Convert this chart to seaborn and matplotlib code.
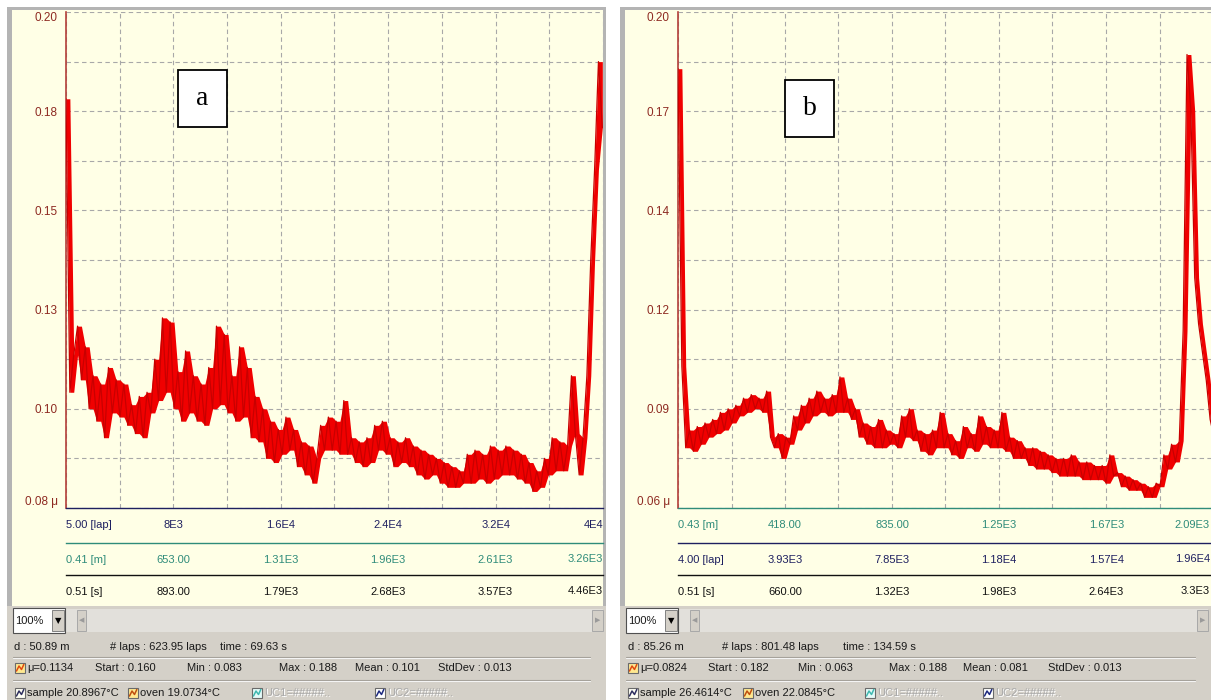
import numpy as np
import pandas as pd
import matplotlib
matplotlib.use("Agg")
import matplotlib.pyplot as plt
import seaborn as sns
from matplotlib.patches import Rectangle
from matplotlib.lines import Line2D

sns.set_theme(style="white")
plt.rcParams['font.family'] = ['Liberation Sans Narrow', 'Liberation Sans', 'DejaVu Sans']

# ---------------- datos ----------------
# panel a : coeficiente de friccion vs vueltas
mu_a = [0.179, 0.108, 0.117, 0.124, 0.111, 0.119, 0.104, 0.112, 0.101, 0.110,
        0.097, 0.114, 0.103, 0.111, 0.102, 0.110, 0.100, 0.105, 0.098, 0.107,
        0.097, 0.108, 0.103, 0.116, 0.106, 0.126, 0.108, 0.125, 0.104, 0.113,
        0.101, 0.118, 0.103, 0.112, 0.101, 0.110, 0.100, 0.114, 0.104, 0.124,
        0.105, 0.122, 0.103, 0.112, 0.101, 0.119, 0.102, 0.114, 0.097, 0.107,
        0.096, 0.104, 0.092, 0.101, 0.091, 0.099, 0.093, 0.102, 0.094, 0.099,
        0.090, 0.096, 0.088, 0.095, 0.086, 0.092, 0.100, 0.094, 0.102, 0.094,
        0.101, 0.093, 0.106, 0.093, 0.097, 0.091, 0.096, 0.090, 0.097, 0.091,
        0.100, 0.094, 0.101, 0.093, 0.097, 0.090, 0.096, 0.091, 0.097, 0.090,
        0.095, 0.088, 0.094, 0.087, 0.093, 0.088, 0.092, 0.086, 0.091, 0.085,
        0.090, 0.085, 0.089, 0.086, 0.093, 0.086, 0.094, 0.087, 0.093, 0.086,
        0.095, 0.087, 0.094, 0.088, 0.095, 0.088, 0.094, 0.087, 0.093, 0.086,
        0.091, 0.084, 0.089, 0.085, 0.092, 0.088, 0.097, 0.089, 0.096, 0.089,
        0.095, 0.112, 0.098, 0.088, 0.097, 0.112, 0.140, 0.162, 0.188, 0.172]

# panel b : coeficiente de friccion vs distancia
mu_b = [0.184, 0.100, 0.077, 0.082, 0.076, 0.083, 0.078, 0.084, 0.080, 0.085,
        0.081, 0.087, 0.082, 0.088, 0.084, 0.089, 0.086, 0.091, 0.087, 0.092,
        0.088, 0.091, 0.087, 0.093, 0.080, 0.077, 0.081, 0.074, 0.080, 0.078,
        0.086, 0.082, 0.089, 0.084, 0.091, 0.086, 0.093, 0.087, 0.091, 0.086,
        0.092, 0.087, 0.097, 0.087, 0.091, 0.085, 0.088, 0.080, 0.084, 0.078,
        0.083, 0.077, 0.085, 0.077, 0.082, 0.078, 0.081, 0.077, 0.086, 0.080,
        0.088, 0.079, 0.082, 0.076, 0.081, 0.075, 0.082, 0.077, 0.087, 0.077,
        0.081, 0.075, 0.079, 0.074, 0.083, 0.077, 0.081, 0.076, 0.086, 0.078,
        0.083, 0.077, 0.082, 0.077, 0.087, 0.076, 0.080, 0.074, 0.079, 0.074,
        0.077, 0.072, 0.077, 0.071, 0.076, 0.071, 0.075, 0.070, 0.074, 0.069,
        0.074, 0.069, 0.075, 0.069, 0.073, 0.068, 0.073, 0.068, 0.072, 0.068,
        0.072, 0.067, 0.075, 0.069, 0.070, 0.066, 0.069, 0.065, 0.068, 0.065,
        0.067, 0.063, 0.066, 0.063, 0.067, 0.066, 0.075, 0.071, 0.078, 0.073,
        0.079, 0.110, 0.188, 0.172, 0.125, 0.112, 0.104, 0.096, 0.085, 0.080]

# posiciones de muestreo (registro uniforme del tribometro)
laps_a = np.linspace(5, 39950, len(mu_a))
dist_b = np.linspace(0.43, 2090, len(mu_b))

ylim_a = (0.08, 0.20)
yticks_a = [0.08, 0.104, 0.128, 0.152, 0.176, 0.20]
yminor_a = [0.092, 0.116, 0.140, 0.164, 0.188]
ylabels_a = ['0.08 μ', '0.10', '0.13', '0.15', '0.18', '0.20']
xlim_a = (5, 40000)
xticks_a = [5, 8000, 16000, 24000, 32000, 40000]
xminor_a = [4000, 12000, 20000, 28000, 36000]
lap_labels_a = ['5.00 [lap]', '8E3', '1.6E4', '2.4E4', '3.2E4', '4E4']
m_labels_a = ['0.41 [m]', '653.00', '1.31E3', '1.96E3', '2.61E3', '3.26E3']
s_labels_a = ['0.51 [s]', '893.00', '1.79E3', '2.68E3', '3.57E3', '4.46E3']

ylim_b = (0.06, 0.20)
yticks_b = [0.06, 0.088, 0.116, 0.144, 0.172, 0.20]
yminor_b = [0.074, 0.102, 0.130, 0.158, 0.186]
ylabels_b = ['0.06 μ', '0.09', '0.12', '0.14', '0.17', '0.20']
xlim_b = (0.43, 2090)
xticks_b = [0.43, 418, 835, 1250, 1670, 2090]
xminor_b = [209, 626, 1043, 1460, 1880]
m_labels_b = ['0.43 [m]', '418.00', '835.00', '1.25E3', '1.67E3', '2.09E3']
lap_labels_b = ['4.00 [lap]', '3.93E3', '7.85E3', '1.18E4', '1.57E4', '1.96E4']
s_labels_b = ['0.51 [s]', '660.00', '1.32E3', '1.98E3', '2.64E3', '3.3E3']

info_a = ['d : 50.89 m', '# laps : 623.95 laps', 'time : 69.63 s']
stats_a = ['μ=0.1134', 'Start : 0.160', 'Min : 0.083', 'Max : 0.188', 'Mean : 0.101', 'StdDev : 0.013']
sensors_a = ['sample 20.8967°C', 'oven 19.0734°C', 'UC1=#####..', 'UC2=#####..']
info_b = ['d : 85.26 m', '# laps : 801.48 laps', 'time : 134.59 s']
stats_b = ['μ=0.0824', 'Start : 0.182', 'Min : 0.063', 'Max : 0.188', 'Mean : 0.081', 'StdDev : 0.013']
sensors_b = ['sample 26.4614°C', 'oven 22.0845°C', 'UC1=#####..', 'UC2=#####..']

# ---------------- colores ----------------
YELLOW = '#FFFFE6'
GRAYBG = '#D4D0C8'
BORDER = '#B4B4B4'
AX_RED = '#B4403A'
LB_RED = '#8E2A22'
NAVY = '#1E2060'
TEAL = '#2F8C7A'
BLACK = '#111111'
CURVE = '#F00000'
FS = 8

W, H = 1211, 700
fig = plt.figure(figsize=(W / 100, H / 100), dpi=100)
fig.patch.set_facecolor('white')


def box(x0, y0, x1, y1):
    return [x0 / W, 1 - y1 / H, (x1 - x0) / W, (y1 - y0) / H]


def rect(x0, y0, x1, y1, fc, ec='none', lw=0, z=-5):
    fig.add_artist(Rectangle((x0 / W, 1 - y1 / H), (x1 - x0) / W, (y1 - y0) / H,
                             transform=fig.transFigure, facecolor=fc,
                             edgecolor=ec, linewidth=lw, zorder=z))


def hline(x0, x1, y, color, lw=0.8, z=2):
    fig.add_artist(Line2D([x0 / W, x1 / W], [1 - y / H, 1 - y / H],
                          transform=fig.transFigure, color=color, lw=lw, zorder=z))


def txt(x, y, s, **kw):
    opts = dict(va='center', ha='left', fontsize=FS, color='#1A1A1A', zorder=4)
    opts.update(kw)
    fig.text(x / W, 1 - y / H, s, **opts)


def icon(x, y, bg, fg):
    rect(x, y - 5, x + 10, y + 5, bg, ec='#6A6A6A', lw=0.8, z=4)
    xs = [x + 1.5, x + 4, x + 6.5, x + 8.8]
    ys = [y + 3, y - 2, y + 1.5, y - 3.5]
    fig.add_artist(Line2D([v / W for v in xs], [1 - v / H for v in ys],
                          transform=fig.transFigure, color=fg, lw=1.1, zorder=5))


def x_row(px0, px1, y_line, xlim, ticks, minor, labels, color, tcolor, last_dx):
    rax = fig.add_axes(box(px0, y_line - 2, px1, y_line))
    rax.patch.set_alpha(0)
    rax.set_xlim(xlim)
    rax.set_ylim(0, 1)
    for s in ['top', 'left', 'right']:
        rax.spines[s].set_visible(False)
    rax.spines['bottom'].set_color(color)
    rax.spines['bottom'].set_linewidth(1.0)
    rax.set_yticks([])
    rax.set_xticks(ticks)
    rax.set_xticks(minor, minor=True)
    rax.set_xticklabels(labels[:-1] + [''])
    rax.tick_params(axis='x', which='major', direction='out', length=5.5, width=1,
                    color=color, labelcolor=tcolor, labelsize=FS, pad=3)
    rax.tick_params(axis='x', which='minor', direction='out', length=2.5, width=1,
                    color=color)
    rax.get_xticklabels()[0].set_ha('left')
    # ultima etiqueta alineada a la derecha del eje
    rax.annotate(labels[-1], xy=(1, 0), xycoords='axes fraction',
                 xytext=(last_dx, -11.5), textcoords='offset pixels',
                 ha='right', va='top', fontsize=FS, color=tcolor)


def draw_panel(fx0, fx1, px0, px1, xs, mu, xlim, ylim, yticks, yminor, ylabels,
               xticks, xminor, rows, tag, tag_box, info, info_x, stats, stats_x,
               sensors, sensors_x, bottom_x1, last_dx):
    # marco de la ventana
    rect(fx0 + 5, 10, fx1, 606, YELLOW)
    rect(fx0, 7, fx1, 10, BORDER)
    rect(fx0, 7, fx0 + 5, 606, BORDER)
    rect(fx0, 606, bottom_x1, 700, GRAYBG)

    # grafico principal
    ax = fig.add_axes(box(px0, 12, px1, 508))
    ax.set_facecolor('none')
    # banda de ruido: rango entre muestras consecutivas
    s = pd.Series(mu)
    band_hi = s.rolling(2, min_periods=1).max()
    band_lo = s.rolling(2, min_periods=1).min()
    ax.fill_between(xs, band_lo, band_hi, color=CURVE, lw=0, zorder=2)
    sns.lineplot(x=xs, y=mu, ax=ax, color='#C80000', lw=0.9, estimator=None,
                 sort=False, legend=False, zorder=3)
    ax.set_xlim(xlim)
    ax.set_ylim(ylim)
    ax.set_xlabel('')
    ax.set_ylabel('')
    ax.set_xticks(xticks)
    ax.set_xticks(xminor, minor=True)
    ax.set_yticks(yticks)
    ax.set_yticks(yminor, minor=True)
    ax.set_yticklabels(ylabels)
    ax.tick_params(axis='x', which='both', length=0, labelbottom=False)
    ax.tick_params(axis='y', which='major', direction='out', length=5, width=1,
                   color=AX_RED, labelcolor=LB_RED, labelsize=8.5, pad=1)
    ax.tick_params(axis='y', which='minor', direction='out', length=2.5, width=1,
                   color=AX_RED)
    ax.grid(True, which='both', color='#A8A8A8', linestyle=(0, (4, 3)), linewidth=0.8)
    ax.set_axisbelow(True)
    for sp in ['top', 'right', 'bottom']:
        ax.spines[sp].set_visible(False)
    ax.spines['left'].set_color(AX_RED)
    ax.spines['left'].set_linewidth(1.2)
    yl = ax.get_yticklabels()
    yl[0].set_va('bottom')
    yl[-1].set_va('top')

    # escalas secundarias
    for y_line, labels, color, tcolor in rows:
        x_row(px0, px1, y_line, xlim, xticks, xminor, labels, color, tcolor, last_dx)

    # etiqueta a / b
    bx0, by0, bx1, by1 = tag_box
    rect(bx0, by0, bx1, by1, 'white', ec='black', lw=1.3, z=6)
    fig.text((bx0 + bx1) / 2 / W, 1 - (by0 + by1) / 2 / H, tag, ha='center',
             va='center', fontsize=20, family='Liberation Serif', color='black', zorder=7)

    # barra de zoom / scroll
    rect(fx0 + 8, 609, bottom_x1 - 3, 632, '#E2E0DB', z=-4)
    rect(fx0 + 6, 608, fx0 + 58, 633, 'white', ec='#505050', lw=0.8, z=1)
    txt(fx0 + 8, 620.5, '100%')
    rect(fx0 + 45, 610, fx0 + 57, 631, GRAYBG, ec='#808080', lw=0.7, z=2)
    txt(fx0 + 51, 620.5, '▼', ha='center', fontsize=6, color='black',
        family=['DejaVu Sans'])
    rect(fx0 + 70, 610, fx0 + 79, 631, GRAYBG, ec='#A8A8A8', lw=0.7, z=2)
    txt(fx0 + 74.5, 620.5, '◀', ha='center', fontsize=5, color='#9A9A9A',
        family=['DejaVu Sans'])
    rect(bottom_x1 - 14, 610, bottom_x1 - 3, 631, GRAYBG, ec='#A8A8A8', lw=0.7, z=2)
    txt(bottom_x1 - 8.5, 620.5, '▶', ha='center', fontsize=5, color='#9A9A9A',
        family=['DejaVu Sans'])

    # filas de informacion
    for t, x in zip(info, info_x):
        txt(x, 647, t)
    hline(fx0 + 6, bottom_x1 - 16, 657, '#A29E96')
    hline(fx0 + 6, bottom_x1 - 16, 658, '#F4F4F4')
    icon(stats_x[0] - 12, 668, '#FFE890', '#E04A10')
    for t, x in zip(stats, stats_x):
        txt(x, 668, t)
    hline(fx0 + 6, bottom_x1 - 16, 680, '#A29E96')
    hline(fx0 + 6, bottom_x1 - 16, 681, '#F4F4F4')
    icon_cols = [('#FFFFF4', '#303060'), ('#FFE890', '#C05010'),
                 ('#E4FAF8', '#40B8B0'), ('#FFFFFF', '#1E2A80')]
    for i, (t, x) in enumerate(zip(sensors, sensors_x)):
        icon(x - 12, 693, *icon_cols[i])
        if i < 2:
            txt(x, 693, t)
        else:
            txt(x + 0.8, 693.8, t, color='white')
            txt(x, 693, t, color='#AAAAAA')


draw_panel(7, 606, 66, 603, laps_a, mu_a, xlim_a, ylim_a, yticks_a, yminor_a, ylabels_a,
           xticks_a, xminor_a,
           [(508, lap_labels_a, NAVY, NAVY), (543, m_labels_a, TEAL, TEAL),
            (575, s_labels_a, BLACK, BLACK)],
           'a', (178, 70, 227, 127),
           info_a, [14, 110, 220], stats_a, [27, 95, 187, 279, 355, 438],
           sensors_a, [27, 140, 264, 387], 606, 0)
rect(603, 10, 606, 606, BORDER)

draw_panel(620, 1214, 678, 1214, dist_b, mu_b, xlim_b, ylim_b, yticks_b, yminor_b, ylabels_b,
           xticks_b, xminor_b,
           [(508, m_labels_b, TEAL, TEAL), (543, lap_labels_b, NAVY, NAVY),
            (575, s_labels_b, BLACK, BLACK)],
           'b', (785, 80, 834, 137),
           info_b, [628, 722, 843], stats_b, [640, 708, 798, 889, 963, 1048],
           sensors_b, [640, 755, 877, 995], 1211, -4)

fig.savefig('out.png', dpi=100)
